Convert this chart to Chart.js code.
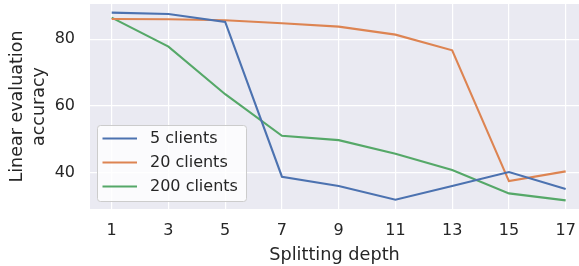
<!DOCTYPE html>
<html>
<head>
<meta charset="utf-8">
<script src="https://cdn.jsdelivr.net/npm/chart.js@4/dist/chart.umd.min.js"></script>
<style>
html,body{margin:0;padding:0;background:#fff;}
#wrap{width:579px;height:266px;position:relative;}
</style>
</head>
<body>
<div id="wrap"><canvas id="c" width="579" height="266"></canvas></div>
<script>
const depths = [1, 3, 5, 7, 9, 11, 13, 15, 17];
const clients5 = [88.0, 87.6, 85.2, 38.7, 35.9, 31.8, 35.9, 40.1, 35.0];
const clients20 = [86.1, 86.0, 85.7, 84.8, 83.8, 81.4, 76.7, 37.4, 40.3];
const clients200 = [86.5, 77.8, 63.5, 51.0, 49.7, 45.6, 40.7, 33.7, 31.6];
const seriesLabels = ['5 clients', '20 clients', '200 clients'];
const yTicks = [40, 60, 80];
const xTitle = 'Splitting depth';
const yTitle = ['Linear evaluation', 'accuracy'];

const colors = ['#4C72B0', '#DD8452', '#55A868'];
const FONT = "'DejaVu Sans', sans-serif";
const TXT = '#262626';

const toXY = arr => arr.map((v, i) => ({x: depths[i], y: v}));

const bgPlugin = {
  id: 'bg',
  beforeDraw(chart) {
    const {ctx, chartArea: a} = chart;
    ctx.save();
    ctx.fillStyle = '#EAEAF2';
    ctx.fillRect(a.left, a.top, a.right - a.left, a.bottom - a.top);
    ctx.restore();
  }
};

const legendPlugin = {
  id: 'boxLegend',
  afterDatasetsDraw(chart) {
    const {ctx, chartArea: a} = chart;
    const x0 = a.left + 7, y0 = 125, w = 149, h = 76;
    ctx.save();
    ctx.beginPath();
    if (ctx.roundRect) ctx.roundRect(x0 + 0.5, y0 + 0.5, w, h, 3); else ctx.rect(x0 + 0.5, y0 + 0.5, w, h);
    ctx.fillStyle = 'rgba(255,255,255,0.8)';
    ctx.fill();
    ctx.strokeStyle = '#CCCCCC';
    ctx.lineWidth = 1;
    ctx.stroke();
    ctx.font = '16px ' + FONT;
    ctx.textBaseline = 'middle';
    ctx.textAlign = 'left';
    chart.data.datasets.forEach((ds, i) => {
      const yy = y0 + 13.5 + i * 24;
      ctx.beginPath();
      ctx.moveTo(x0 + 5.5, yy);
      ctx.lineTo(x0 + 40, yy);
      ctx.strokeStyle = ds.borderColor;
      ctx.lineWidth = 2;
      ctx.stroke();
      ctx.fillStyle = TXT;
      ctx.fillText(ds.label, x0 + 53, yy);
    });
    ctx.restore();
  }
};

const mkDs = (label, data, color) => ({
  label, data: toXY(data), borderColor: color, backgroundColor: color,
  borderWidth: 2.1, pointRadius: 0, tension: 0, fill: false
});

new Chart(document.getElementById('c'), {
  type: 'line',
  data: {
    datasets: [
      mkDs(seriesLabels[0], clients5, colors[0]),
      mkDs(seriesLabels[1], clients20, colors[1]),
      mkDs(seriesLabels[2], clients200, colors[2])
    ]
  },
  options: {
    responsive: false,
    animation: false,
    layout: {padding: {left: 0, right: 0, top: 4, bottom: 0}},
    plugins: {legend: {display: false}, tooltip: {enabled: false}},
    scales: {
      x: {
        type: 'linear',
        min: 0.235, max: 17.47,
        afterBuildTicks: s => { s.ticks = depths.map(v => ({value: v})); },
        afterFit: s => { s.height = 57; s.paddingLeft = 0; s.paddingRight = 0; },
        grid: {color: '#FFFFFF', lineWidth: 1.2, drawTicks: false},
        border: {display: false},
        ticks: {color: TXT, font: {family: FONT, size: 16}, padding: 12, maxRotation: 0, autoSkip: false},
        title: {display: true, text: xTitle, color: TXT, font: {family: FONT, size: 17.7}, padding: {top: 0, bottom: -0.5}}
      },
      y: {
        type: 'linear',
        min: 29, max: 90.6,
        afterBuildTicks: s => { s.ticks = yTicks.map(v => ({value: v})); },
        afterFit: s => { s.width = 90; s.paddingTop = 0; s.paddingBottom = 0; },
        grid: {color: '#FFFFFF', lineWidth: 1.2, drawTicks: false},
        border: {display: false},
        ticks: {color: TXT, font: {family: FONT, size: 16}, padding: 15},
        title: {display: true, text: yTitle, color: TXT, font: {family: FONT, size: 17.5, lineHeight: 1.25}, padding: {top: 7, bottom: 0}}
      }
    }
  },
  plugins: [bgPlugin, legendPlugin]
});
</script>
</body>
</html>
